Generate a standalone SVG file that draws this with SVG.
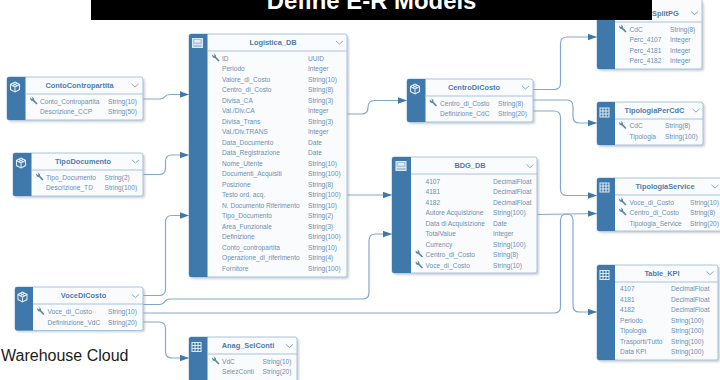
<svg xmlns="http://www.w3.org/2000/svg" width="720" height="380" viewBox="0 0 720 380">
<style>
.b{fill:#fafbfc;stroke:#a8c3dc;stroke-width:1}
.s{fill:#3f78ab}
.h{stroke:#a8c3dc;stroke-width:1;fill:none}
.sh{fill:#8c9aa8;opacity:.45;filter:url(#bl)}
text{font-family:"Liberation Sans",Arial,sans-serif}
.t{font-size:7.4px;font-weight:bold;fill:#4f7ca8;text-anchor:middle}
.r{font-size:6.6px;fill:#6c90b4}
.c{fill:none;stroke:#82a9cc;stroke-width:1.2}
.chev{fill:none;stroke:#7f9fbe;stroke-width:.9}
.ic{fill:none;stroke:#dbe7f1;stroke-width:1.1}
.k{fill:#5d87ae}
</style>
<defs>
<filter id="bl" x="-10%" y="-10%" width="120%" height="120%"><feGaussianBlur stdDeviation="1"/></filter>
<marker id="a" markerUnits="userSpaceOnUse" markerWidth="9" markerHeight="7" refX="9" refY="3.5" orient="auto"><path d="M0 0.300L9 3.500L0 6.700Z" fill="#3f78ab"/></marker>
<g id="chev"><path class="chev" d="M-3.5 -1.6L0 1.6L3.500 -1.6"/></g>
<g id="key"><path class="k" d="M-3.6 -3.4L-2.2 -2L-1.200 -3L-2.500 -4.200A2.400 2.400 0 0 1 0 -1.200L3.600 2.400L2.400 3.600L-1.200 0A2.400 2.400 0 0 1 -3.600 -3.400Z"/></g>
<g id="cube"><path class="ic" d="M0 -5L4.500 -2.600V2.600L0 5L-4.500 2.600V-2.600ZM-4.500 -2.600L0 0L4.500 -2.600M0 0V5M-2.200 -3.800L2.200 -1.300M2.200 -3.800L-2.200 -1.300"/></g>
<g id="grid"><path class="ic" d="M-4.500 -4.500H4.500V4.500H-4.500ZM-4.500 -1.500H4.500M-4.500 1.500H4.500M-1.500 -4.500V4.500M1.500 -4.500V4.500"/></g>
<g id="view"><path d="M-5 -4.500H5V4.500H-5Z" fill="#a9c5dd"/><path class="ic" d="M-5 -4.500H5V4.500H-5ZM-5 1.500H5"/><path d="M-3 -3H3V-0.500H-3Z" fill="#e3edf5"/></g>
</defs>

<g id="connectors">
<path class="c" marker-end="url(#a)" d="M143 99H160C166 99 163 94.500 170 94.500H189"/>
<path class="c" marker-end="url(#a)" d="M143 174.500H159Q165.500 174.500 165.500 168V161.500Q165.500 155 172 155H189"/>
<path class="c" marker-end="url(#a)" d="M143 295.500H159Q165.500 295.500 165.500 289V222Q165.500 215.500 172 215.500H189"/>
<path class="c" marker-end="url(#a)" d="M143 304.500H160C166 304.500 163 299 170 299H362.500Q369 299 369 292.500V240.500Q369 234 375.500 234H392"/>
<path class="c" marker-end="url(#a)" d="M143 313H554Q560.500 313 560.500 306.500V220.500Q560.500 214 567 214Q573 214 573 220.500V305.500Q573 312 579.500 312H597"/>
<path class="c" marker-end="url(#a)" d="M143 322H159Q165.500 322 165.500 328.500V351.500Q165.500 358 172 358H189"/>
<path class="c" marker-end="url(#a)" d="M347 114H361.500Q368 114 368 107.500Q368 100.500 374.500 100.500H407"/>
<path class="c" marker-end="url(#a)" d="M347 195H392"/>
<path class="c" marker-end="url(#a)" d="M533 89.500H554Q560.500 89.500 560.500 83V43.500Q560.500 37 567 37H597"/>
<path class="c" marker-end="url(#a)" d="M533 100H566.500Q573 100 573 106.500V116.500Q573 123 579.500 123H597"/>
<path class="c" marker-end="url(#a)" d="M533 111H554Q560.500 111 560.500 117.500V189Q560.500 195.500 567 195.500H597"/>
<path class="c" marker-end="url(#a)" d="M537 214.500L597 213.500"/>
</g>

<g id="Logistica_DB">
<rect class="sh" x="191" y="36" width="158" height="243" rx="2"/>
<rect class="b" x="189" y="34" width="158" height="243" rx="2"/>
<path class="s" d="M191 34H207.500V277H191Q189 277 189 275V36Q189 34 191 34Z"/>
<path class="h" d="M207.500 51H347"/>
<use href="#view" x="197.500" y="43"/>
<text class="t" x="273" y="44.500">Logistica_DB</text>
<use href="#chev" x="339.500" y="42.500"/>
<use href="#key" x="216" y="58"/>
<g class="r">
<text x="222" y="60.500">ID</text><text x="308" y="60.500">UUID</text>
<text x="222" y="71">Periodo</text><text x="308" y="71">Integer</text>
<text x="222" y="81.500">Valore_di_Costo</text><text x="308" y="81.500">String(10)</text>
<text x="222" y="92">Centro_di_Costo</text><text x="308" y="92">String(8)</text>
<text x="222" y="102.500">Divisa_CA</text><text x="308" y="102.500">String(3)</text>
<text x="222" y="113">Val./Div.CA</text><text x="308" y="113">Integer</text>
<text x="222" y="123.500">Divisa_Trans</text><text x="308" y="123.500">String(3)</text>
<text x="222" y="134">Val./Div.TRANS</text><text x="308" y="134">Integer</text>
<text x="222" y="144.500">Data_Documento</text><text x="308" y="144.500">Date</text>
<text x="222" y="155">Data_Registrazione</text><text x="308" y="155">Date</text>
<text x="222" y="165.500">Nome_Utente</text><text x="308" y="165.500">String(10)</text>
<text x="222" y="176">Documenti_Acquisiti</text><text x="308" y="176">String(100)</text>
<text x="222" y="186.500">Posizione</text><text x="308" y="186.500">String(8)</text>
<text x="222" y="197">Testo ord. acq.</text><text x="308" y="197">String(100)</text>
<text x="222" y="207.500">N. Documento Riferimento</text><text x="308" y="207.500">String(10)</text>
<text x="222" y="218">Tipo_Documento</text><text x="308" y="218">String(2)</text>
<text x="222" y="228.500">Area_Funzionale</text><text x="308" y="228.500">String(3)</text>
<text x="222" y="239">Definizione</text><text x="308" y="239">String(100)</text>
<text x="222" y="249.500">Conto_contropartita</text><text x="308" y="249.500">String(10)</text>
<text x="222" y="260">Operazione_di_riferimento</text><text x="308" y="260">String(4)</text>
<text x="222" y="270.500">Fornitore</text><text x="308" y="270.500">String(100)</text>
</g>
</g>

<g id="ContoContropartita">
<rect class="sh" x="9" y="79" width="136" height="43" rx="2"/>
<rect class="b" x="7" y="77" width="136" height="43" rx="2"/>
<path class="s" d="M9 77H25.500V120H9Q7 120 7 118V79Q7 77 9 77Z"/>
<path class="h" d="M25.500 94H143"/>
<use href="#cube" x="15" y="87"/>
<text class="t" x="79.500" y="87.500">ContoContropartita</text>
<use href="#chev" x="135" y="85.500"/>
<use href="#key" x="34" y="101"/>
<g class="r"><text x="40" y="103.500">Conto_Contropartita</text><text x="108" y="103.500">String(10)</text>
<text x="40" y="114">Descrizione_CCP</text><text x="108" y="114">String(50)</text></g>
</g>

<g id="TipoDocumento">
<rect class="sh" x="15" y="155" width="130" height="43" rx="2"/>
<rect class="b" x="13" y="153" width="130" height="43" rx="2"/>
<path class="s" d="M15 153H31.500V196H15Q13 196 13 194V155Q13 153 15 153Z"/>
<path class="h" d="M31.500 170H143"/>
<use href="#cube" x="21" y="163"/>
<text class="t" x="83" y="164">TipoDocumento</text>
<use href="#chev" x="135.500" y="161.500"/>
<use href="#key" x="40" y="177"/>
<g class="r"><text x="46" y="179.500">Tipo_Documento</text><text x="104.500" y="179.500">String(2)</text>
<text x="46" y="190">Descrizione_TD</text><text x="104.500" y="190">String(100)</text></g>
</g>

<g id="VoceDiCosto">
<rect class="sh" x="17" y="289" width="128" height="43" rx="2"/>
<rect class="b" x="15" y="287" width="128" height="43.500" rx="2"/>
<path class="s" d="M17 287H33V330.500H17Q15 330.500 15 328.500V289Q15 287 17 287Z"/>
<path class="h" d="M33 304H143"/>
<use href="#cube" x="22.500" y="297"/>
<text class="t" x="83.500" y="298">VoceDiCosto</text>
<use href="#chev" x="135.500" y="296"/>
<use href="#key" x="41" y="311.500"/>
<g class="r"><text x="47.500" y="314">Voce_di_Costo</text><text x="108" y="314">String(10)</text>
<text x="47.500" y="324.500">Defininzione_VdC</text><text x="108" y="324.500">String(20)</text></g>
</g>

<g id="Anag_SelConti">
<rect class="sh" x="191" y="339" width="108" height="43" rx="2"/>
<rect class="b" x="189" y="337" width="108" height="45" rx="2"/>
<path class="s" d="M191 337H207.500V382H189V339Q189 337 191 337Z"/>
<path class="h" d="M207.500 354H297"/>
<use href="#grid" x="196.500" y="347"/>
<text class="t" x="248" y="347.500">Anag_SelConti</text>
<use href="#chev" x="289.500" y="346"/>
<use href="#key" x="216" y="361"/>
<g class="r"><text x="222" y="363.500">VdC</text><text x="262.500" y="363.500">String(10)</text>
<text x="222" y="374">SelezConti</text><text x="262.500" y="374">String(20)</text></g>
</g>

<g id="CentroDiCosto">
<rect class="sh" x="409" y="81" width="126" height="43" rx="2"/>
<rect class="b" x="407" y="79" width="126" height="43" rx="2"/>
<path class="s" d="M409 79H425.500V122H409Q407 122 407 120V81Q407 79 409 79Z"/>
<path class="h" d="M425.500 96H533"/>
<use href="#cube" x="415" y="89"/>
<text class="t" x="474" y="90">CentroDiCosto</text>
<use href="#chev" x="525.500" y="87.500"/>
<use href="#key" x="433.500" y="103"/>
<g class="r"><text x="440" y="105.500">Centro_di_Costo</text><text x="498" y="105.500">String(8)</text>
<text x="440" y="116">Definizione_CdC</text><text x="498" y="116">String(20)</text></g>
</g>

<g id="BDG_DB">
<rect class="sh" x="394" y="159" width="145" height="116" rx="2"/>
<rect class="b" x="392" y="157" width="145" height="116" rx="2"/>
<path class="s" d="M394 157H411V273H394Q392 273 392 271V159Q392 157 394 157Z"/>
<path class="h" d="M411 174H537"/>
<use href="#view" x="401" y="166"/>
<text class="t" x="470" y="167.500">BDG_DB</text>
<use href="#chev" x="530" y="166"/>
<use href="#key" x="419.500" y="254"/>
<use href="#key" x="419.500" y="265"/>
<g class="r">
<text x="425.500" y="183.500">4107</text><text x="493" y="183.500">DecimalFloat</text>
<text x="425.500" y="194">4181</text><text x="493" y="194">DecimalFloat</text>
<text x="425.500" y="204.500">4182</text><text x="493" y="204.500">DecimalFloat</text>
<text x="425.500" y="215">Autore Acquisizione</text><text x="493" y="215">String(100)</text>
<text x="425.500" y="225.500">Data di Acquisizione</text><text x="493" y="225.500">Date</text>
<text x="425.500" y="236">TotalValue</text><text x="493" y="236">Integer</text>
<text x="425.500" y="246.500">Currency</text><text x="493" y="246.500">String(100)</text>
<text x="425.500" y="257">Centro_di_Costo</text><text x="493" y="257">String(8)</text>
<text x="425.500" y="267.500">Voce_di_Costo</text><text x="493" y="267.500">String(10)</text>
</g>
</g>

<g id="SplitPG">
<rect class="sh" x="599" y="2" width="105" height="69" rx="2"/>
<rect class="b" x="597" y="-2" width="105" height="71" rx="2"/>
<path class="s" d="M597 -2H615V69H599Q597 69 597 67Z"/>
<path class="h" d="M615 22H702"/>
<text class="t" style="text-anchor:start" x="652" y="16">SplitPG</text>
<use href="#chev" x="694.500" y="13"/>
<use href="#key" x="623" y="29"/>
<g class="r"><text x="629.500" y="31.500">CdC</text><text x="670" y="31.500">String(8)</text>
<text x="629.500" y="42">Perc_4107</text><text x="670" y="42">Integer</text>
<text x="629.500" y="52.500">Perc_4181</text><text x="670" y="52.500">Integer</text>
<text x="629.500" y="63">Perc_4182</text><text x="670" y="63">Integer</text></g>
</g>

<g id="TipologiaPerCdC">
<rect class="sh" x="599" y="104" width="106" height="43" rx="2"/>
<rect class="b" x="597" y="102" width="106" height="43" rx="2"/>
<path class="s" d="M599 102H615V145H599Q597 145 597 143V104Q597 102 599 102Z"/>
<path class="h" d="M615 119H703"/>
<use href="#grid" x="604.500" y="112.500"/>
<text class="t" x="654.500" y="113">TipologiaPerCdC</text>
<use href="#chev" x="696" y="110.500"/>
<use href="#key" x="623" y="125.500"/>
<g class="r"><text x="629.500" y="128">CdC</text><text x="665" y="128">String(8)</text>
<text x="629.500" y="138.500">Tipologia</text><text x="665" y="138.500">String(100)</text></g>
</g>

<g id="TipologiaService">
<rect class="sh" x="599" y="180" width="125" height="53" rx="2"/>
<rect class="b" x="597" y="178" width="125" height="53" rx="2"/>
<path class="s" d="M599 178H615V231H599Q597 231 597 229V180Q597 178 599 178Z"/>
<path class="h" d="M615 195H722"/>
<use href="#grid" x="604.500" y="187.500"/>
<text class="t" x="665" y="188.500">TipologiaService</text>
<use href="#chev" x="715" y="186.500"/>
<use href="#key" x="623" y="202"/>
<use href="#key" x="623" y="212"/>
<g class="r"><text x="629.500" y="204.500">Voce_di_Costo</text><text x="690" y="204.500">String(10)</text>
<text x="629.500" y="215">Centro_di_Costo</text><text x="690" y="215">String(8)</text>
<text x="629.500" y="225.500">Tipologia_Service</text><text x="690" y="225.500">String(20)</text></g>
</g>

<g id="Table_KPI">
<rect class="sh" x="599" y="267" width="121" height="95" rx="2"/>
<rect class="b" x="597" y="265" width="121" height="95" rx="2"/>
<path class="s" d="M599 265H615V360H599Q597 360 597 358V267Q597 265 599 265Z"/>
<path class="h" d="M615 282H718"/>
<use href="#grid" x="604.500" y="275"/>
<text class="t" x="662" y="275.500">Table_KPI</text>
<use href="#chev" x="710" y="273"/>
<g class="r">
<text x="620" y="291">4107</text><text x="671" y="291">DecimalFloat</text>
<text x="620" y="301.500">4181</text><text x="671" y="301.500">DecimalFloat</text>
<text x="620" y="312">4182</text><text x="671" y="312">DecimalFloat</text>
<text x="620" y="322.500">Periodo</text><text x="671" y="322.500">String(100)</text>
<text x="620" y="333">Tipologia</text><text x="671" y="333">String(100)</text>
<text x="620" y="343.500">Trasporti/Tutto</text><text x="671" y="343.500">String(100)</text>
<text x="620" y="354">Data KPI</text><text x="671" y="354">String(100)</text>
</g>
</g>

<g id="banner">
<rect x="91" y="0" width="561" height="20" fill="#000"/>
<text x="371.500" y="8.500" font-size="23.900" font-weight="bold" fill="#fff" text-anchor="middle">Define E-R Models</text>
</g>
<text id="caption" x="1" y="361" font-size="16" fill="#1c1c1c">Warehouse Cloud</text>
</svg>
